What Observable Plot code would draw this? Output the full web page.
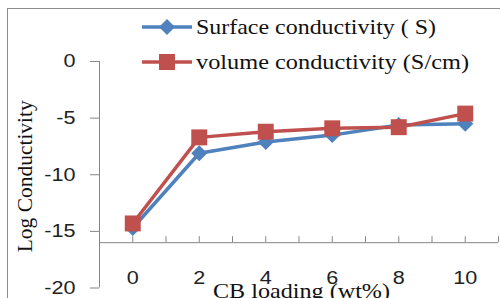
<!DOCTYPE html>
<html><head><meta charset="utf-8">
<script src="https://cdn.jsdelivr.net/npm/d3@7"></script>
<script src="https://cdn.jsdelivr.net/npm/@observablehq/plot@0.6"></script>
<style>
html,body{margin:0;padding:0;background:#fff;}
#chart{position:relative;width:500px;height:298px;overflow:hidden;}
#frame{position:absolute;left:7px;top:8px;width:600px;height:400px;border:1px solid #8c8c8c;box-sizing:border-box;}
#plot{position:absolute;left:0;top:0;}
</style></head><body>
<div id="chart"><div id="frame"></div><div id="plot"></div></div>
<script>
const loading = [0, 2, 4, 6, 8, 10];
const surface = [-14.7, -8.1, -7.1, -6.5, -5.6, -5.5];
const volume = [-14.3, -6.7, -6.2, -5.9, -5.8, -4.6];
const seriesNames = ["Surface conductivity ( S)", "volume conductivity (S/cm)"];
const seriesColors = ["#4F81BD", "#C0504D"];
const seriesSymbols = ["diamond2", "square"];
const yTicks = [0, -5, -10, -15, -20];
const xLabelTicks = [0, 2, 4, 6, 8, 10];
const xMinorTicks = d3.range(-1, 12);
const xTitle = "CB loading (wt%)";
const yTitle = "Log Conductivity";
const xAxisAt = -16;

const W = 500, H = 298, mT = 61, mB = 10.5, mL = 99, mR = 2;
const axisColor = "#868686";
const serif = "'Liberation Serif', 'Times New Roman', serif";
const sans = "'Liberation Sans', Arial, sans-serif";
const tickLenUnits = 6 * 20 / (H - mT - mB);
const symbolR = [7.2, 9];

const seriesData = [surface, volume].map(vals => loading.map((x, i) => ({x, y: vals[i]})));

const seriesMarks = seriesData.flatMap((data, k) => [
  Plot.line(data, {x: "x", y: "y", stroke: seriesColors[k], strokeWidth: 3.5}),
  Plot.dot(data, {x: "x", y: "y", fill: seriesColors[k], symbol: seriesSymbols[k], r: symbolR[k], stroke: "none"})
]);

const plot = Plot.plot({
  width: W, height: H,
  marginTop: mT, marginBottom: mB, marginLeft: mL, marginRight: mR,
  x: {domain: [-1, 11], axis: null},
  y: {domain: [-20, 0], axis: null},
  style: {background: "transparent", overflow: "visible"},
  marks: [
    Plot.ruleX([-1], {y1: -20, y2: 0, stroke: axisColor, strokeWidth: 1}),
    Plot.axisY({ticks: yTicks, tickSize: 9, tickPadding: 15, stroke: axisColor, label: null,
      tickFormat: d => String(d), fontSize: 18, fontFamily: sans, fill: "#222"}),
    Plot.ruleY([xAxisAt], {x1: -1, x2: 11, stroke: axisColor, strokeWidth: 1}),
    Plot.ruleX(xMinorTicks, {x: d => d, y1: xAxisAt, y2: xAxisAt + tickLenUnits, stroke: axisColor}),
    Plot.text(xLabelTicks, {x: d => d, y: xAxisAt, dy: 36, text: d => String(d), fontSize: 18, fontFamily: sans, fill: "#222", className: "xtick"}),
    ...seriesMarks,
    Plot.text([yTitle], {frameAnchor: "left", dx: -74, dy: 77.5, rotate: -90, textAnchor: "start", fontSize: 21, fontFamily: serif, fill: "#111", className: "ytitle"}),
    Plot.text([xTitle], {frameAnchor: "bottom", dx: 2.5, dy: 9.5, lineAnchor: "bottom", fontSize: 21, fontFamily: serif, fill: "#111", className: "xtitle"})
  ]
});
document.getElementById("plot").appendChild(plot);

// legend
const svg = d3.select(plot);
const legendY = [27, 62];
const legendW = [240, 273];
const lg = svg.append("g").attr("class", "legend").attr("text-anchor", "start");
seriesNames.forEach((name, k) => {
  const g = lg.append("g").attr("transform", `translate(0,${legendY[k]})`);
  g.append("line").attr("x1", 142).attr("x2", 192).attr("y1", 0).attr("y2", 0)
    .attr("stroke", seriesColors[k]).attr("stroke-width", 3.5);
  const sym = seriesSymbols[k] === "square" ? d3.symbolSquare : d3.symbolDiamond2;
  g.append("path").attr("transform", "translate(167,0)")
    .attr("d", d3.symbol(sym, Math.PI * symbolR[k] * symbolR[k])())
    .attr("fill", seriesColors[k]);
  g.append("text").attr("x", 196).attr("y", 7).attr("font-family", serif).attr("font-size", 22)
    .attr("text-anchor", "start")
    .attr("fill", "#111").attr("class", "legtext").attr("data-w", legendW[k]).text(name);
});

// horizontal stretch of text, like the reference rendering
function stretch(el, len) {
  el.setAttribute("textLength", len);
  el.setAttribute("lengthAdjust", "spacingAndGlyphs");
}
plot.querySelectorAll("text").forEach(t => {
  const n = t.getComputedTextLength();
  if (t.classList.contains("legtext")) stretch(t, +t.getAttribute("data-w"));
  else if (t.closest(".ytitle")) stretch(t, 152);
  else if (t.closest(".xtitle")) stretch(t, 177);
  else if (n > 0) stretch(t, n * 1.2);
});
</script>
</body></html>
